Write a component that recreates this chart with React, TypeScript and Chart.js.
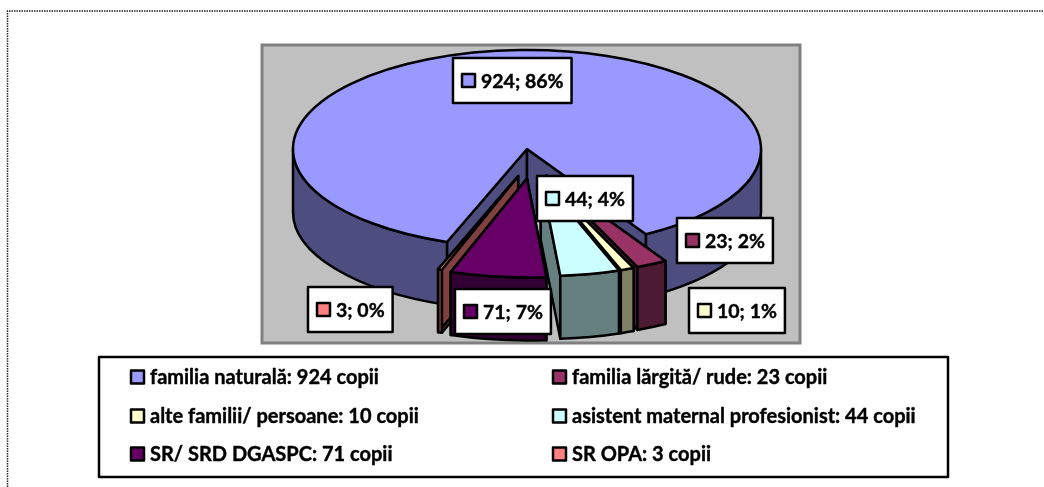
import React, { useEffect, useRef } from "react";
import { Chart, registerables } from "chart.js";

Chart.register(...registerables);

const categories = [
  "familia naturală",
  "familia lărgită/ rude",
  "alte familii/ persoane",
  "asistent maternal profesionist",
  "SR/ SRD DGASPC",
  "SR OPA",
];
const values = [924, 23, 10, 44, 71, 3];
const topColors = ["#9999ff", "#993366", "#ffffcc", "#ccffff", "#660066", "#ff8080"];
const sideColors = ["#4d4d80", "#4d1a33", "#808066", "#668080", "#330033", "#804040"];
const explodeOffsets = [0, 262, 262, 262, 262, 262];

// presentation settings
const TILT = 99 / 234;
const DEPTH = 63;
const NUDGE = [[0, 0], [-10, 2], [-8, 2], [0, 1], [8, 2], [13, 1]];
const DRAW_ORDER = [0, 1, 2, 3, 5, 4];
const LABEL_BOXES = [[453, 58], [677, 218], [689, 288], [537, 176], [455, 289], [308, 287]];
const LABEL_H = 45;
const LEGEND_ROWS = [[0, 131, 377], [1, 553, 377], [2, 131, 416], [3, 553, 416], [4, 131, 454], [5, 553, 454]];
const FONT = "bold 20px Lato";
const LABEL_FONT = "bold 19.5px Lato";

const pie3d = {
  id: "pie3d",
  beforeDraw(chart: any) {
    const c = chart.ctx;
    c.save();
    c.fillStyle = "#c0c0c0";
    c.strokeStyle = "#808080";
    c.lineWidth = 3;
    c.fillRect(262, 45, 538, 298);
    c.strokeRect(262, 45, 538, 298);
    c.strokeStyle = "#222";
    c.lineWidth = 1.5;
    c.setLineDash([1.5, 1]);
    c.beginPath();
    c.moveTo(7.5, 487);
    c.lineTo(7.5, 11);
    c.lineTo(1044, 11);
    c.stroke();
    c.restore();
  },
  beforeDatasetsDraw(chart: any) {
    const c = chart.ctx;
    const meta = chart.getDatasetMeta(0);
    c.save();
    c.lineWidth = 2.5;
    c.strokeStyle = "#000";
    c.lineJoin = "round";
    for (const i of DRAW_ORDER) {
      const arc = meta.data[i];
      const { x, y, startAngle: s, endAngle: e, outerRadius: R } = arc.getProps(
        ["x", "y", "startAngle", "endAngle", "outerRadius"],
        true
      );
      const off = (arc.options.offset || 0) / 4;
      const mid = (s + e) / 2;
      const ax = x + Math.cos(mid) * off + NUDGE[i][0];
      const ay = y + Math.sin(mid) * off * TILT + NUDGE[i][1];
      const px = (a: number) => ax + R * Math.cos(a);
      const py = (a: number) => ay + R * TILT * Math.sin(a);
      c.fillStyle = sideColors[i];
      for (const a of [s, e]) {
        c.beginPath();
        c.moveTo(ax, ay);
        c.lineTo(px(a), py(a));
        c.lineTo(px(a), py(a) + DEPTH);
        c.lineTo(ax, ay + DEPTH);
        c.closePath();
        c.fill();
        c.stroke();
      }
      for (let k = 0; k < 2; k++) {
        const a0 = Math.max(s, 2 * k * Math.PI);
        const a1 = Math.min(e, (2 * k + 1) * Math.PI);
        if (a1 <= a0) continue;
        c.beginPath();
        c.ellipse(ax, ay, R, R * TILT, 0, a0, a1);
        c.lineTo(px(a1), py(a1) + DEPTH);
        c.ellipse(ax, ay + DEPTH, R, R * TILT, 0, a1, a0, true);
        c.closePath();
        c.fill();
        c.stroke();
      }
      c.fillStyle = topColors[i];
      c.beginPath();
      c.moveTo(ax, ay);
      c.ellipse(ax, ay, R, R * TILT, 0, s, e);
      c.closePath();
      c.fill();
      c.stroke();
    }
    c.restore();
    return false;
  },
  afterDraw(chart: any) {
    const c = chart.ctx;
    const total = values.reduce((a, b) => a + b, 0);
    c.save();
    c.textBaseline = "middle";
    c.textAlign = "left";
    c.lineJoin = "round";
    const swatch = (x: number, cy: number, col: string) => {
      c.lineWidth = 2.5;
      c.strokeStyle = "#000";
      c.fillStyle = col;
      c.fillRect(x, cy - 6.5, 13, 13);
      c.strokeRect(x, cy - 6.5, 13, 13);
    };
    const boldText = (t: string, x: number, y: number) => {
      c.fillStyle = "#000";
      c.lineWidth = 0.4;
      c.strokeStyle = "#000";
      c.fillText(t, x, y);
      c.strokeText(t, x, y);
    };
    values.forEach((v, i) => {
      const [bx, by] = LABEL_BOXES[i];
      const text = `${v}; ${Math.round((v / total) * 100)}%`;
      c.font = LABEL_FONT;
      const w = 9 + 14 + 5 + c.measureText(text).width + 8;
      c.lineWidth = 2.5;
      c.strokeStyle = "#000";
      c.fillStyle = "#fff";
      c.fillRect(bx, by, w, LABEL_H);
      c.strokeRect(bx, by, w, LABEL_H);
      swatch(bx + 9, by + LABEL_H / 2, topColors[i]);
      boldText(text, bx + 28, by + LABEL_H / 2 + 1);
    });
    c.lineWidth = 2.5;
    c.strokeStyle = "#000";
    c.fillStyle = "#fff";
    c.fillRect(99, 357, 849, 120);
    c.strokeRect(99, 357, 849, 120);
    c.font = FONT;
    for (const [i, x, y] of LEGEND_ROWS) {
      swatch(x, y, topColors[i]);
      boldText(`${categories[i]}: ${values[i]} copii`, x + 19, y + 1);
    }
    c.restore();
  },
};

export default function App() {
  const ref = useRef<HTMLCanvasElement>(null);
  useEffect(() => {
    const chart = new Chart(ref.current as HTMLCanvasElement, {
      type: "pie",
      data: {
        labels: categories,
        datasets: [{ data: values, backgroundColor: topColors, borderWidth: 0, offset: explodeOffsets }],
      },
      options: {
        responsive: false,
        animation: false,
        events: [],
        radius: 234,
        rotation: 200,
        layout: { padding: { left: 10, right: 0, top: 0, bottom: 189 } },
        plugins: { legend: { display: false }, tooltip: { enabled: false } },
      },
      plugins: [pie3d],
    } as any);
    return () => chart.destroy();
  }, []);
  return (
    <canvas
      ref={ref}
      width={1044}
      height={487}
      style={{ position: "absolute", left: 0, top: 0, display: "block" }}
    />
  );
}
